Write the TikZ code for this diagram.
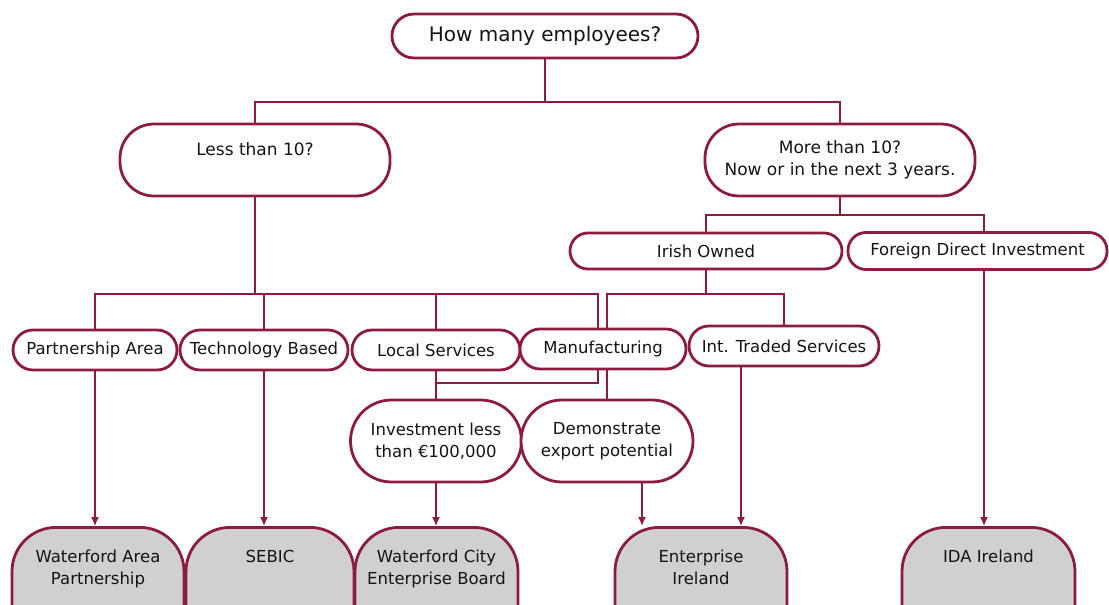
\documentclass[tikz,border=0pt]{standalone}
\usepackage{fontspec}
\setmainfont{DejaVu Sans}
\usetikzlibrary{arrows.meta}
\definecolor{wine}{RGB}{140,28,62}
\definecolor{boxgrey}{RGB}{208,208,208}
\newcommand{\agency}[1]{\parbox[t][80pt][t]{160pt}{\centering #1}}

\begin{document}
\begin{tikzpicture}[x=1pt, y=-1pt,
	question/.style={draw=wine, line width=2.8pt, fill=white, rectangle, inner sep=0pt,
		align=center, text=black!92, font=\fontsize{16.5}{22}\selectfont},
	agencybox/.style={question, fill=boxgrey, anchor=north, rounded corners=44pt,
		inner xsep=0pt, inner ysep=23pt},
	link/.style={draw=wine, line width=1.3pt},
	arrowlink/.style={link, -{Latex[length=9pt, width=8pt]}}]
\useasboundingbox (0,0) rectangle (1109,605);
\clip (0,0) rectangle (1109,605);

% questions
\node[question, minimum width=306pt, minimum height=44pt, rounded corners=22pt,
	font=\fontsize{20}{24}\selectfont] (q) at (545,36) {How many employees?};
\node[question, minimum width=270pt, minimum height=72pt, rounded corners=34pt,
	font=\fontsize{17}{22}\selectfont] (less) at (255,160) {Less than 10?\\\mbox{}};
\node[question, minimum width=270pt, minimum height=72pt, rounded corners=34pt,
	font=\fontsize{17}{22}\selectfont] (more) at (840,160) {More than 10?\\Now or in the next 3 years.};
\node[question, minimum width=272pt, minimum height=36pt, rounded corners=18pt] (irish) at (706,251) {Irish Owned};
\node[question, minimum width=259pt, minimum height=37pt, rounded corners=18pt] (fdi) at (977.5,251) {Foreign Direct Investment};

% sectors
\node[question, minimum width=164pt, minimum height=40pt, rounded corners=20pt] (part) at (95,350) {Partnership Area};
\node[question, minimum width=168pt, minimum height=40pt, rounded corners=20pt] (tech) at (264,350) {Technology Based};
\node[question, minimum width=168pt, minimum height=40pt, rounded corners=20pt] (local) at (436,350) {Local Services};
\node[question, minimum width=166pt, minimum height=40pt, rounded corners=20pt] (manuf) at (603,349) {Manufacturing};
\node[question, minimum width=190pt, minimum height=40pt, rounded corners=20pt] (intl) at (784,346) {Int. Traded Services};

\node[question, minimum width=171pt, minimum height=82pt, rounded corners=41pt] (inv) at (436,441) {Investment less\\than €100,000};
\node[question, minimum width=172pt, minimum height=82pt, rounded corners=41pt] (demo) at (607,441) {Demonstrate\\export potential};

% agencies
\node[agencybox, minimum width=172pt] (wap) at (98,526) {\agency{Waterford Area\\Partnership}};
\node[agencybox, minimum width=168pt] (sebic) at (270,526) {\agency{SEBIC}};
\node[agencybox, minimum width=163pt] (wceb) at (436.5,526) {\agency{Waterford City\\Enterprise Board}};
\node[agencybox, minimum width=172pt] (ei) at (701,526) {\agency{Enterprise\\Ireland}};
\node[agencybox, minimum width=173pt] (ida) at (988.5,526) {\agency{IDA Ireland}};

\coordinate (bus1) at (0,102);
\coordinate (bus3) at (0,294);
\coordinate (bus4) at (0,383);
\coordinate (fdicol) at (984,215);

% connectors
\draw[link] (q.south) -- (q.south |- bus1);
\draw[link] (less.north) |- (more.north |- bus1) -- (more.north);
\draw[link] (more.south) -- (more.south |- fdicol);
\draw[link] (irish.north) |- (fdicol) -- (fdicol |- fdi.north);

\draw[link] (less.south) -- (less.south |- bus3);
\draw[link] (part.north) |- ([xshift=-5pt]manuf.north |- bus3) -- ([xshift=-5pt]manuf.north);
\draw[link] (tech.north) -- (tech.north |- bus3);
\draw[link] (local.north) -- (local.north |- bus3);
\draw[link] (irish.south) -- (irish.south |- bus3);
\draw[link] ([xshift=4pt]manuf.north) |- (intl.north |- bus3) -- (intl.north);

\draw[link] ([xshift=-5pt]manuf.south) |- (local.south |- bus4);
\draw[link] (local.south) -- (inv.north);
\draw[link] ([xshift=4pt]manuf.south) -- (demo.north);

\draw[arrowlink] (part.south) -- (part.south |- wap.north);
\draw[arrowlink] (tech.south) -- (tech.south |- sebic.north);
\draw[arrowlink] (inv.south) -- (inv.south |- wceb.north);
\draw[arrowlink] ([xshift=35pt]demo.south) -- ([xshift=35pt]demo.south |- ei.north);
\draw[arrowlink] ([xshift=-43pt]intl.south) -- ([xshift=-43pt]intl.south |- ei.north);
\draw[arrowlink] (fdicol |- fdi.south) -- (fdicol |- ida.north);
\end{tikzpicture}
\end{document}
